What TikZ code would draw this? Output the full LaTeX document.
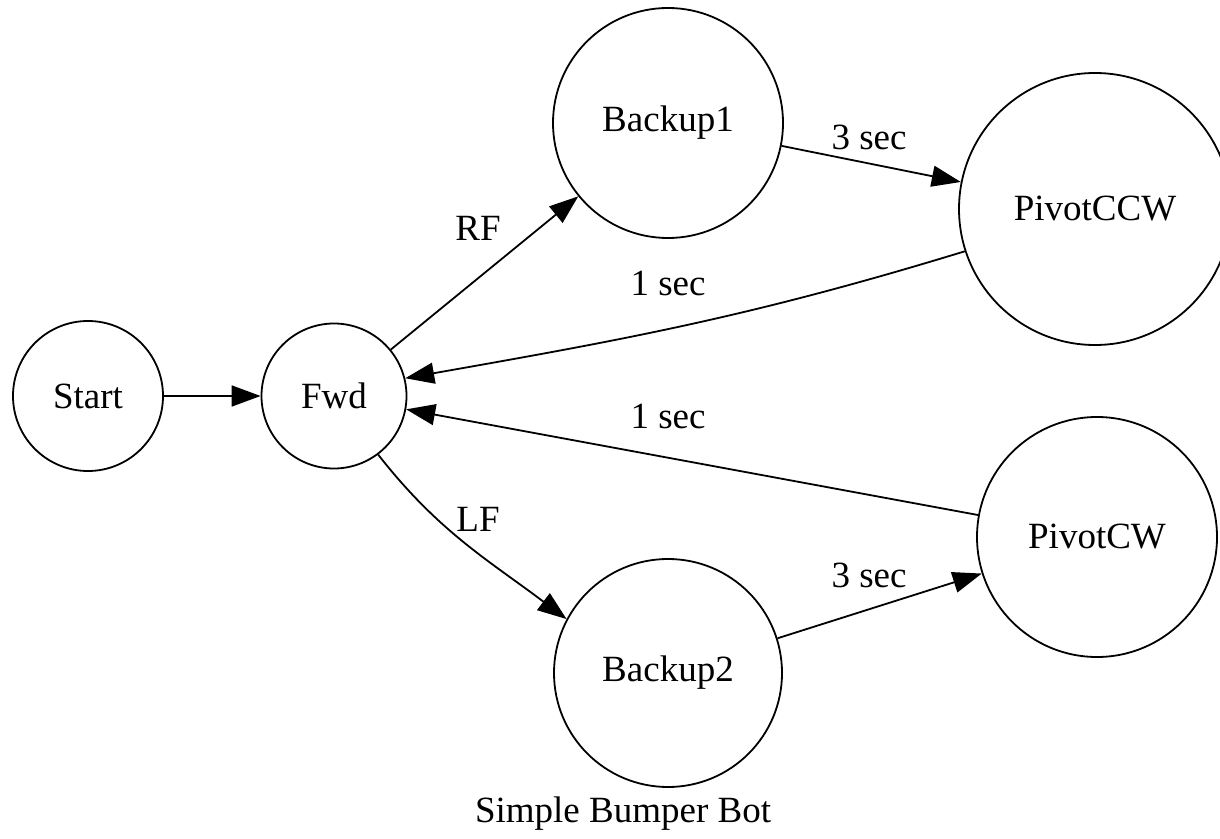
\documentclass[tikz,border=0pt]{standalone}
\usepackage{fontspec}
\setmainfont{Liberation Serif}
\usetikzlibrary{arrows.meta}
\begin{document}
\begin{tikzpicture}[x=0.5pt,y=-0.5pt,
  txt/.style={font=\fontsize{18.5}{22}\selectfont},
  state/.style={txt, draw, circle, line width=0.9pt, inner sep=0pt},
  lbl/.style={txt, inner sep=0pt},
  link/.style={line width=0.9pt, -{Triangle[length=14.5pt,width=10.5pt]}}]
\useasboundingbox (0,0) rectangle (1220,839);
\clip (0,0) rectangle (1220,839);

% states
\node[state, minimum size=75pt]    (start)    at (88,396)   {Start};
\node[state, minimum size=72.5pt]  (fwd)      at (334,396)  {Fwd};
\node[state, minimum size=115pt]   (backup1)  at (668,123)  {Backup1};
\node[state, minimum size=114pt]   (backup2)  at (668,673)  {Backup2};
\node[state, minimum size=136pt]   (pivotccw) at (1095,209) {PivotCCW};
\node[state, minimum size=120pt]   (pivotcw)  at (1097,537) {PivotCW};

% transitions
\draw[link] (start) -- (fwd);
\draw[link] (fwd) -- (backup1);
\draw[link] (backup1) -- (pivotccw);
\draw[link] (fwd.-53) to[out=-52, in=143] (backup2.152);
\draw[link] (backup2) -- (pivotcw);
\draw[link] (pivotccw.198) to[out=197, in=10] (fwd.14);
\draw[link] (pivotcw) -- (fwd);

% transition labels
\node[lbl] (lrf)   at (478,228) {RF};
\node[lbl] (llf)   at (478,519) {LF};
\node[lbl] (l3a)   at (869,137) {3 sec};
\node[lbl] (l3b)   at (869,575) {3 sec};
\node[lbl] (l1a)   at (668,283) {1 sec};
\node[lbl] (l1b)   at (668,416) {1 sec};

% graph title
\node[lbl] (title) at (623,814) {Simple Bumper Bot};
\end{tikzpicture}
\end{document}
